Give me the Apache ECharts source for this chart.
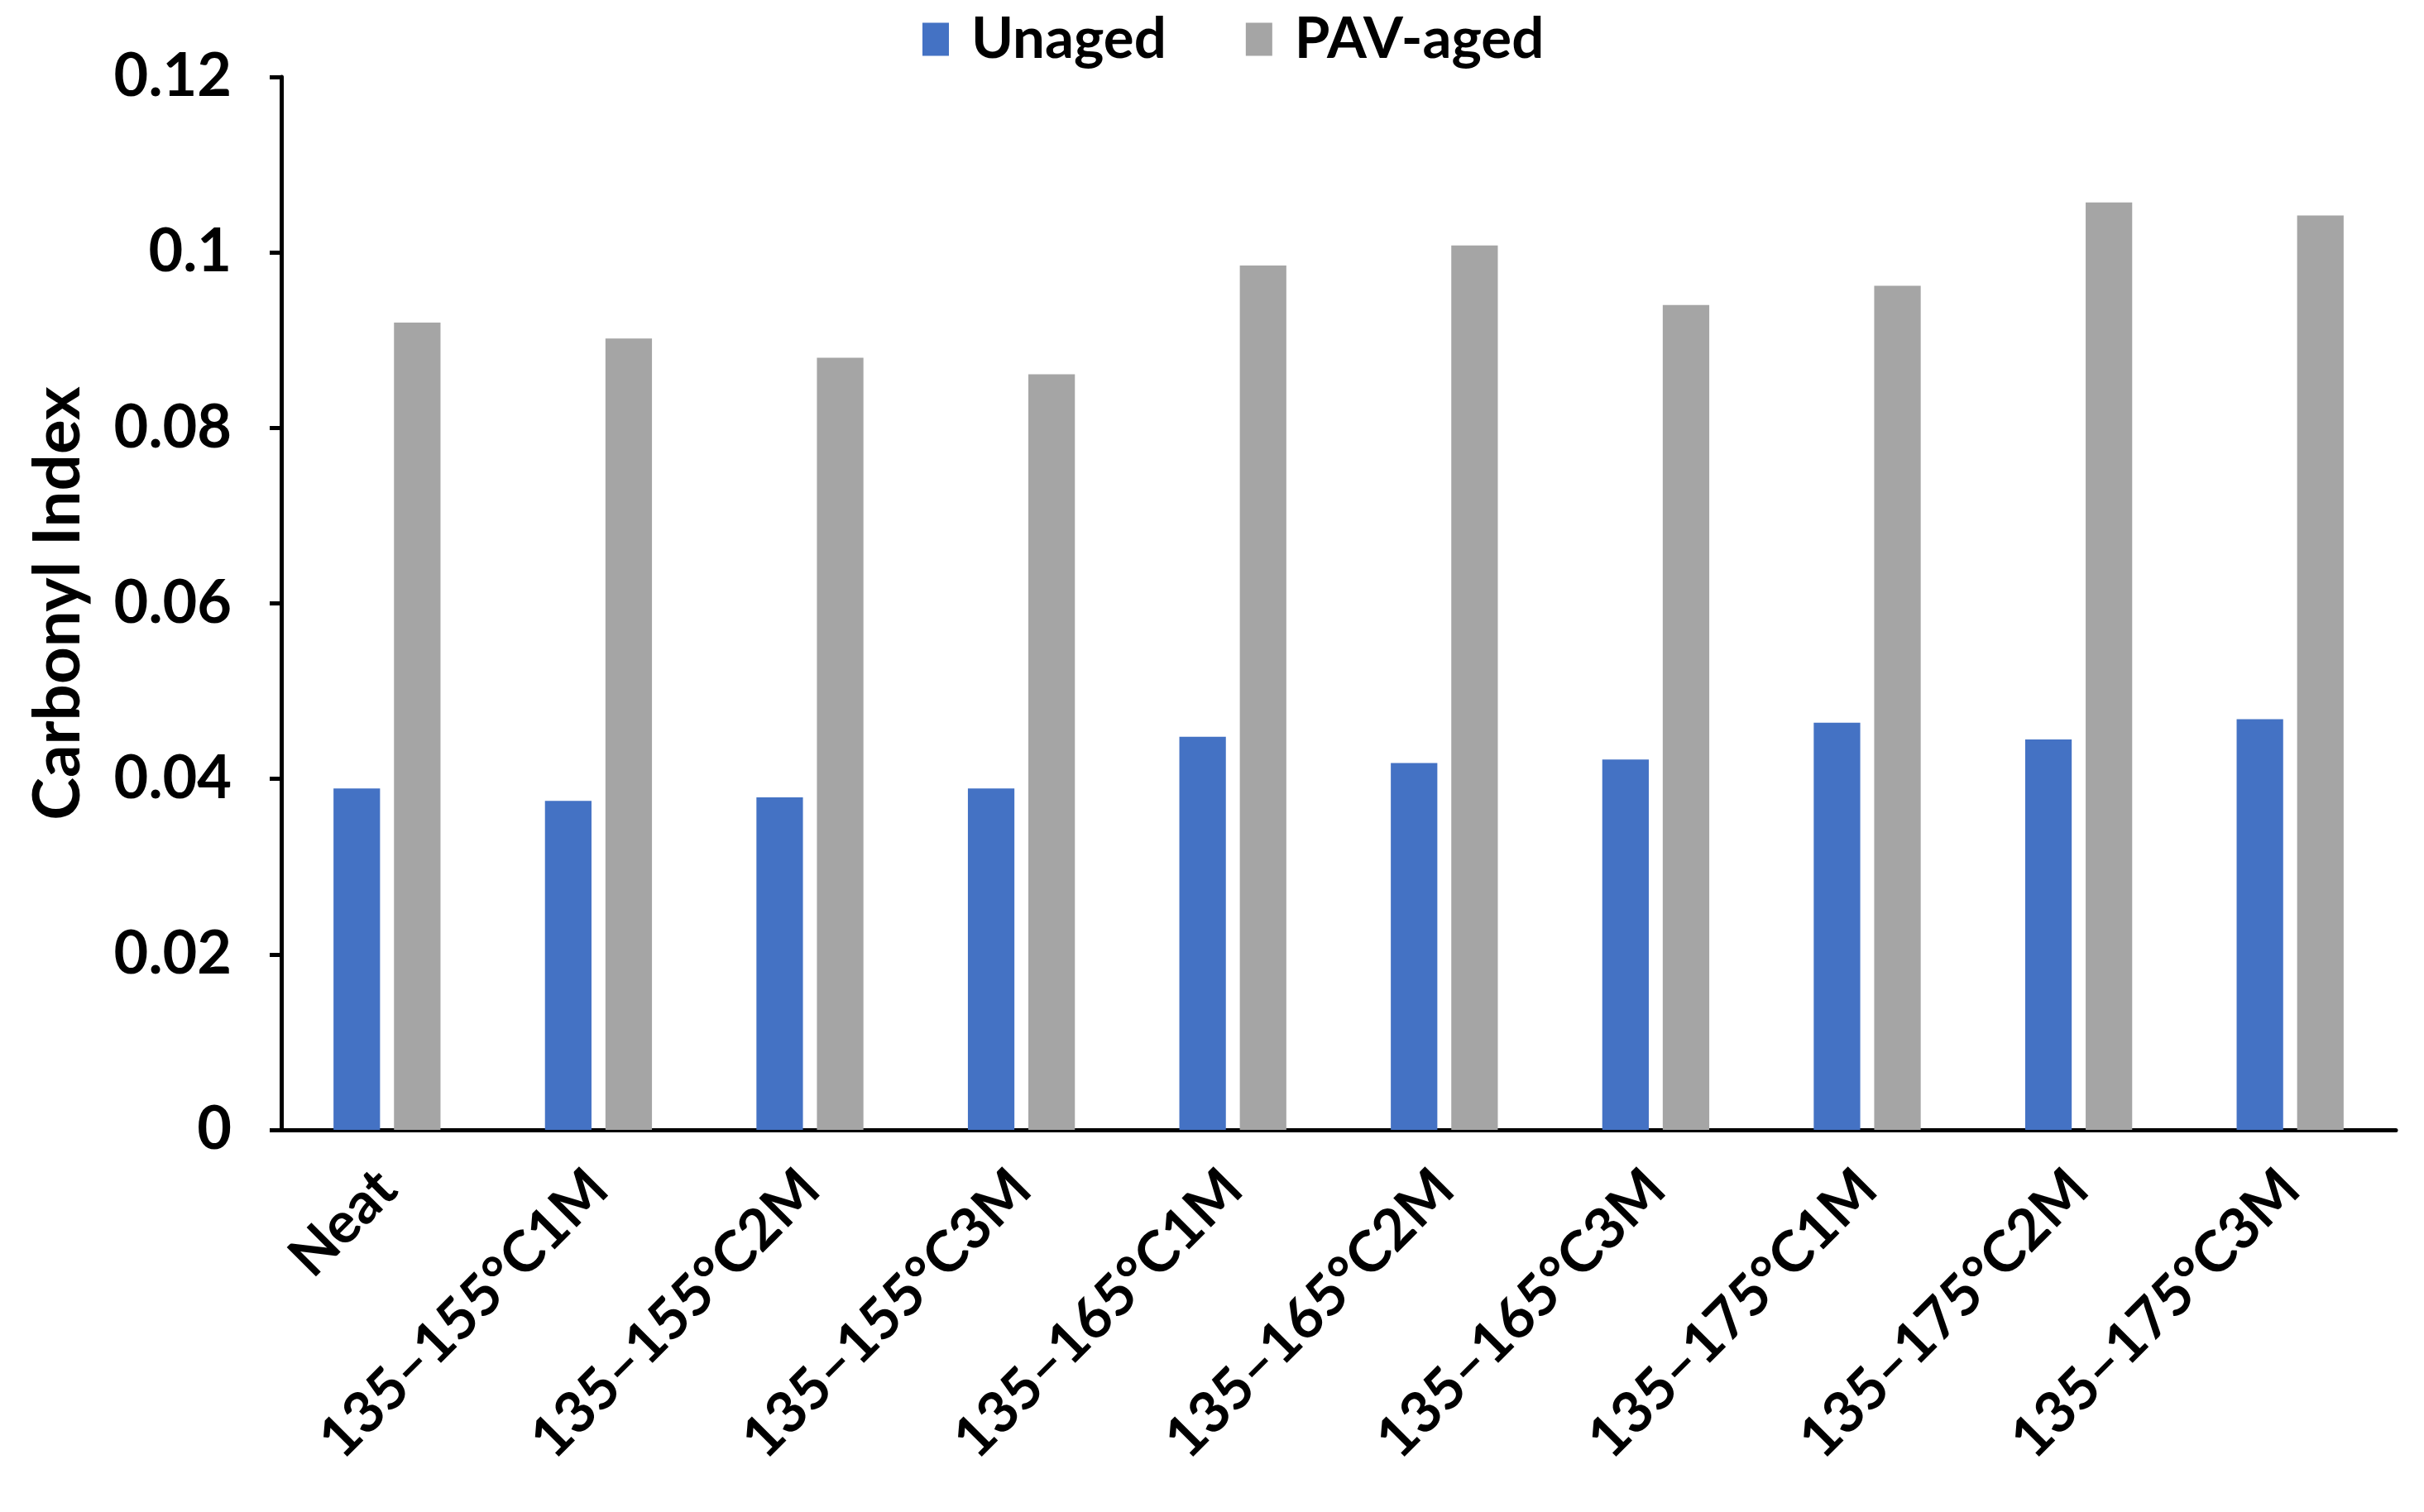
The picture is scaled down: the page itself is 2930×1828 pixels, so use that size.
<!DOCTYPE html>
<html>
<head>
<meta charset="utf-8">
<script src="https://cdn.jsdelivr.net/npm/echarts@6/dist/echarts.min.js"></script>
<style>
html,body{margin:0;padding:0;background:#fff;}
#chart{width:2930px;height:1828px;}
</style>
</head>
<body>
<div id="chart"></div>
<script>
const categories = ['Neat','135–155°C1M','135–155°C2M','135–155°C3M','135–165°C1M','135–165°C2M','135–165°C3M','135–175°C1M','135–175°C2M','135–175°C3M'];
const unaged = [0.0389,0.0375,0.0379,0.0389,0.0448,0.0418,0.0422,0.0464,0.0445,0.0468];
const pavAged = [0.0920,0.0902,0.0880,0.0861,0.0985,0.1008,0.0940,0.0962,0.1057,0.1042];
const seriesNames = ['Unaged','PAV-aged'];
const yTicks = {min:0, max:0.12, interval:0.02};

const FONT = 'Lato';
const chart = echarts.init(document.getElementById('chart'), null, {renderer:'canvas'});
chart.setOption({
  animation:false,
  backgroundColor:'#ffffff',
  legend:{
    left:1110, top:8,
    itemWidth:32, itemHeight:40, itemGap:96,
    icon:'rect',
    textStyle:{fontFamily:FONT,fontWeight:'bold',fontSize:69,color:'#000',padding:[0,0,0,22]},
    data:seriesNames
  },
  grid:{left:340,right:34,top:93,bottom:462,containLabel:false},
  xAxis:{
    type:'category',
    data:categories,
    axisLine:{show:true,lineStyle:{color:'#000',width:5}},
    axisTick:{show:false},
    axisLabel:{interval:0,rotate:45,margin:60,fontFamily:FONT,fontWeight:'bold',fontSize:69,color:'#000'},
    splitLine:{show:false}
  },
  yAxis:{
    type:'value',
    min:yTicks.min,max:yTicks.max,interval:yTicks.interval,
    name:'Carbonyl Index',
    nameLocation:'middle',
    nameGap:230,
    nameTextStyle:{fontFamily:FONT,fontWeight:'bold',fontSize:78,color:'#000'},
    axisLine:{show:true,lineStyle:{color:'#000',width:5}},
    axisTick:{show:true,length:14,lineStyle:{color:'#000',width:5}},
    axisLabel:{margin:60,fontFamily:FONT,fontWeight:'bold',fontSize:72,color:'#000'},
    splitLine:{show:false}
  },
  series:[
    {name:seriesNames[0],type:'bar',data:unaged,barWidth:'22%',barGap:'30%',itemStyle:{color:'#4472C4'}},
    {name:seriesNames[1],type:'bar',data:pavAged,barWidth:'22%',barGap:'30%',itemStyle:{color:'#A5A5A5'}}
  ]
});
</script>
</body>
</html>
